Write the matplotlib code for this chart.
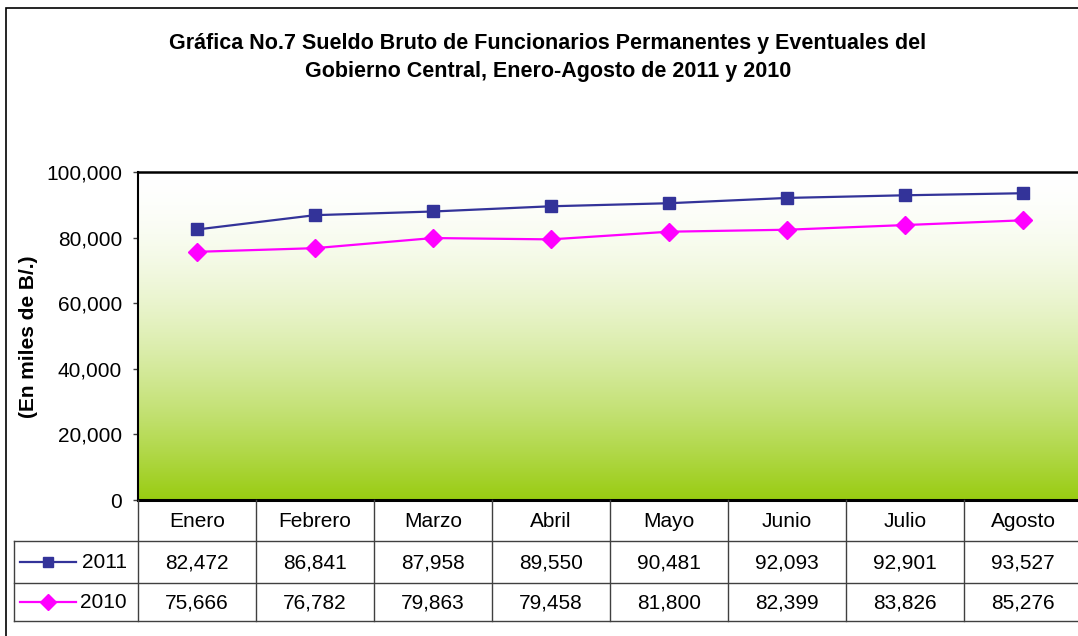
import numpy as np
import matplotlib
matplotlib.use("Agg")
import matplotlib.pyplot as plt
from matplotlib.colors import to_rgb
from matplotlib.lines import Line2D
from matplotlib.patches import Rectangle

months = ["Enero", "Febrero", "Marzo", "Abril", "Mayo", "Junio", "Julio", "Agosto"]
s2011 = [82472, 86841, 87958, 89550, 90481, 92093, 92901, 93527]
s2010 = [75666, 76782, 79863, 79458, 81800, 82399, 83826, 85276]
series_names = ["2011", "2010"]
yticks = [0, 20000, 40000, 60000, 80000, 100000]
title_lines = ["Gráfica No.7 Sueldo Bruto de Funcionarios Permanentes y Eventuales del",
               "Gobierno Central, Enero-Agosto de 2011 y 2010"]
ylabel = "(En miles de B/.)"

W, H = 1078, 636
plt.rcParams['font.family'] = ['Liberation Sans', 'DejaVu Sans']
fig = plt.figure(figsize=(W / 100, H / 100), dpi=100)
fig.patch.set_facecolor("white")

def fx(px):
    return px / W

def fy(py):
    return 1 - py / H

# outer border
fig.patches.append(Rectangle((fx(6), fy(H + 20)), fx(W + 20), (H + 20 - 8) / H,
                             transform=fig.transFigure, fill=False, edgecolor="black",
                             linewidth=1.2))

left_px, right_px, top_px, bot_px = 138, 1082, 172, 500
ax = fig.add_axes([fx(left_px), fy(bot_px), (right_px - left_px) / W, (bot_px - top_px) / H])
n = len(months)
x = np.arange(n)

# gradient background: row 0 = bottom (green), last row = top (white)
t = np.linspace(0, 1, 256) ** 1.7   # 0 at top, 1 at bottom
t = t[::-1]
c0 = np.array(to_rgb("#ffffff"))
c1 = np.array(to_rgb("#99cc11"))
grad = (c0[None, :] * (1 - t[:, None]) + c1[None, :] * t[:, None])[:, None, :]
ax.imshow(grad, extent=(-0.5, n - 0.5, 0, 100000), aspect="auto", origin="lower", zorder=0)
ax.set_xlim(-0.5, n - 0.5)
ax.set_ylim(0, 100000)

col2011 = "#333399"
col2010 = "#ff00ff"
ax.plot(x, s2011, color=col2011, lw=1.6, marker="s", ms=8.5, zorder=3)
ax.plot(x, s2010, color=col2010, lw=1.6, marker="D", ms=9.5, zorder=3)

ax.set_yticks(yticks)
ax.set_yticklabels([f"{v:,}" for v in yticks], fontsize=15)
ax.tick_params(axis="y", direction="out", length=3.6, pad=8, width=1, color="#404040")
ax.set_xticks([])
for side in ["top", "left", "bottom", "right"]:
    ax.spines[side].set_color("black")
ax.spines["top"].set_linewidth(1.8)
ax.spines["left"].set_linewidth(1.5)
ax.spines["bottom"].set_linewidth(2.2)
ax.spines["right"].set_visible(False)

# data table
tb_bot = 621
tax = fig.add_axes([fx(left_px), fy(tb_bot), (right_px - left_px) / W, (tb_bot - bot_px) / H])
tax.set_xlim(-0.5, n - 0.5)
tax.axis("off")
row_px = [500, 541, 583, 621]
tax.set_ylim(-(tb_bot - bot_px), 0)
lc = "#404040"
legend_left = -0.5 - (left_px - 14) / 118.0
for r in row_px[1:]:
    tax.plot([legend_left, n - 0.5], [-(r - bot_px)] * 2, color=lc, lw=1, clip_on=False)
for i in range(n):
    tax.plot([i - 0.5, i - 0.5], [0, -(tb_bot - bot_px)], color=lc, lw=1, clip_on=False)
tax.plot([legend_left, legend_left], [-(541 - bot_px), -(tb_bot - bot_px)], color=lc, lw=1, clip_on=False)

def rowc(a, b):
    return -((a + b) / 2 - bot_px)

for i, m in enumerate(months):
    tax.text(i, rowc(500, 541) - 1, m, ha="center", va="center", fontsize=15)
for vals, k in [(s2011, 1), (s2010, 2)]:
    for i, v in enumerate(vals):
        tax.text(i, rowc(row_px[k], row_px[k + 1]) - 1, f"{v:,}", ha="center", va="center", fontsize=15)

key_x0 = -0.5 - (left_px - 20) / 118.0
key_x1 = -0.5 - (left_px - 76) / 118.0
key_m = (key_x0 + key_x1) / 2
for name, col, mk, ms, k in [(series_names[0], col2011, "s", 7, 1), (series_names[1], col2010, "D", 8, 2)]:
    yc = rowc(row_px[k], row_px[k + 1])
    tax.add_line(Line2D([key_x0, key_x1], [yc, yc], color=col, lw=1.6, clip_on=False))
    tax.add_line(Line2D([key_m], [yc], color=col, marker=mk, ms=ms, clip_on=False))
    tax.text(-0.5 - 11 / 118.0, yc - 1, name, ha="right", va="center", fontsize=15)

for line, ypx in zip(title_lines, [44, 72]):
    fig.text(fx(548), fy(ypx), line, ha="center", va="center", fontsize=15.5, fontweight="bold")
fig.text(fx(29), fy(337), ylabel, rotation=90, ha="center", va="center", fontsize=15,
         fontweight="bold")

fig.savefig("out.png", dpi=100)
